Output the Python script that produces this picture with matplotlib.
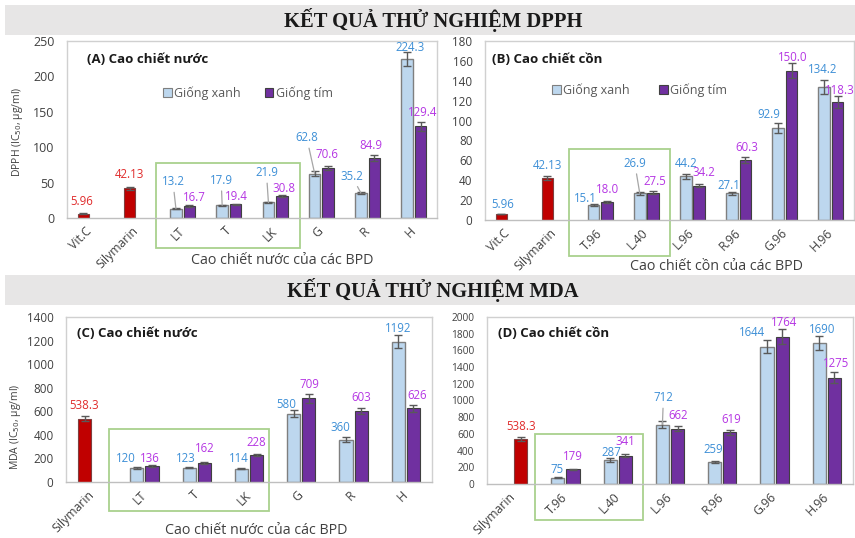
import matplotlib
matplotlib.use("Agg")
import matplotlib.pyplot as plt
import matplotlib.transforms as mtransforms
from matplotlib.patches import Rectangle, Patch
import numpy as np

plt.rcParams["font.family"] = ["Open Sans", "DejaVu Sans"]

FIG_W, FIG_H = 855, 538

# (A) DPPH - water extracts
dpph_water_ctrl = ["Vit.C", "Silymarin"]
dpph_water_ctrl_val = [5.96, 42.13]
dpph_water_ctrl_err = [0.5, 2.0]
dpph_water_names = ["LT", "T", "LK", "G", "R", "H"]
dpph_water_xanh = [13.2, 17.9, 21.9, 62.8, 35.2, 224.3]
dpph_water_tim = [16.7, 19.4, 30.8, 70.6, 84.9, 129.4]
dpph_water_xanh_err = [1.0, 1.0, 1.2, 3.5, 2.0, 10.0]
dpph_water_tim_err = [1.0, 1.0, 1.3, 3.5, 4.0, 6.5]

# (B) DPPH - ethanol extracts
dpph_eth_ctrl = ["Vit.C", "Silymarin"]
dpph_eth_ctrl_val = [5.96, 42.13]
dpph_eth_ctrl_err = [0.3, 2.0]
dpph_eth_names = ["T.96", "L.40", "L.96", "R.96", "G.96", "H.96"]
dpph_eth_xanh = [15.1, 26.9, 44.2, 27.1, 92.9, 134.2]
dpph_eth_tim = [18.0, 27.5, 34.2, 60.3, 150.0, 118.3]
dpph_eth_xanh_err = [1.0, 1.5, 2.5, 1.5, 5.0, 7.0]
dpph_eth_tim_err = [1.0, 1.2, 1.5, 3.3, 7.5, 6.0]

# (C) MDA - water extracts
mda_water_ctrl = ["Silymarin"]
mda_water_ctrl_val = [538.3]
mda_water_ctrl_err = [23]
mda_water_names = ["LT", "T", "LK", "G", "R", "H"]
mda_water_xanh = [120, 123, 114, 580, 360, 1192]
mda_water_tim = [136, 162, 228, 709, 603, 626]
mda_water_xanh_err = [6, 6, 5, 28, 20, 59]
mda_water_tim_err = [7, 10, 10, 37, 28, 31]

# (D) MDA - ethanol extracts
mda_eth_ctrl = ["Silymarin"]
mda_eth_ctrl_val = [538.3]
mda_eth_ctrl_err = [24]
mda_eth_names = ["T.96", "L.40", "L.96", "R.96", "G.96", "H.96"]
mda_eth_xanh = [75, 287, 712, 259, 1644, 1690]
mda_eth_tim = [179, 341, 662, 619, 1764, 1275]
mda_eth_xanh_err = [5, 20, 44, 12, 80, 80]
mda_eth_tim_err = [6, 15, 32, 32, 92, 68]

RED = "#C00000"
XANH = "#BDD7EE"
TIM = "#7030A0"
LBL_BLUE = "#3D8FD6"
LBL_TIM = "#B536E3"
LBL_RED = "#E02B2B"
TXT = "#404040"
BOX_GREEN = "#A9D18E"
W = 0.25
OFF = 0.145


def fig_rect(left, top, right, bottom):
    return [left / FIG_W, 1 - bottom / FIG_H, (right - left) / FIG_W, (bottom - top) / FIG_H]


def fig_xy(x, y):
    return x / FIG_W, 1 - y / FIG_H


def put_label(ax, x, y, text, color, dxdy, leader=False):
    dx, dy = dxdy
    kw = {}
    if leader:
        kw["arrowprops"] = dict(arrowstyle="-", color="#A6A6A6", lw=0.9,
                                shrinkA=1, shrinkB=0)
    ax.annotate(text, (x, y), xytext=(dx, dy), textcoords="offset pixels",
                ha="center", va="center", fontsize=8.3, color=color, **kw)


def draw_panel(fig, p):
    ax = fig.add_axes(fig_rect(*p["rect"]))
    n_ctrl = len(p["ctrl"])
    n = n_ctrl + len(p["names"])
    x_ctrl = np.arange(n_ctrl) + p["ctrl_side"] * OFF
    x_samp = np.arange(n_ctrl, n)
    ekw = dict(ecolor="#595959", elinewidth=1, capsize=3, capthick=1)

    ax.bar(x_ctrl, p["ctrl_val"], W, color=RED, edgecolor="#7F3F3F", lw=0.8,
           yerr=p["ctrl_err"], error_kw=ekw, zorder=2)
    ax.bar(x_samp - OFF, p["xanh"], W, color=XANH, edgecolor="#7F7F7F", lw=1,
           yerr=p["xanh_err"], error_kw=ekw, zorder=2)
    ax.bar(x_samp + OFF, p["tim"], W, color=TIM, edgecolor="#404040", lw=0.8,
           yerr=p["tim_err"], error_kw=ekw, zorder=2)

    for x, v, off in zip(x_ctrl, p["ctrl_val"], p["ctrl_off"]):
        put_label(ax, x, v, f"{v:g}", p["ctrl_color"], off)
    for x, v, off, ld in zip(x_samp - OFF, p["xanh"], p["xanh_off"], p["leaders"]):
        put_label(ax, x, v, p["fmt"].format(v), LBL_BLUE, off, ld)
    for x, v, off in zip(x_samp + OFF, p["tim"], p["tim_off"]):
        put_label(ax, x, v, p["fmt"].format(v), LBL_TIM, off)

    ax.set_xlim(-0.5, n - 0.5)
    ax.set_ylim(0, p["ymax"])
    ax.set_yticks(np.arange(0, p["ymax"] + 1, p["ystep"]))
    ax.set_xticks(np.arange(n))
    ax.set_xticklabels(p["ctrl"] + p["names"], rotation=45, ha="right",
                       va="center", rotation_mode="anchor")
    ax.tick_params(axis="x", length=0, pad=8, labelsize=8.8, labelcolor=TXT)
    ax.tick_params(axis="y", length=0, pad=9, labelsize=p["ytick_size"],
                   labelcolor=TXT)
    for side in ("left", "right", "top"):
        ax.spines[side].set_color("#D0D0D0")
        ax.spines[side].set_linewidth(1)
    ax.spines["bottom"].set_color("#BFBFBF")
    ax.spines["bottom"].set_linewidth(1)

    ax.text(p["title_xy"][0], p["title_xy"][1], p["title"], transform=ax.transAxes,
            ha="left", va="center", fontsize=9.5, fontweight="bold", color="#1A1A1A")

    if p.get("ylabel"):
        ax.set_ylabel(p["ylabel"], fontsize=7.5, color=TXT)
        ax.yaxis.set_label_coords(*p["ylabel_xy"])

    if p.get("legend_xy"):
        handles = [Patch(facecolor=XANH, edgecolor="#7F7F7F", lw=0.8),
                   Patch(facecolor=TIM, edgecolor="#404040", lw=0.8)]
        ax.legend(handles, ["Giống xanh", "Giống tím"], ncol=2, frameon=False,
                  loc="center", bbox_to_anchor=p["legend_xy"], fontsize=9,
                  labelcolor="#595959", handlelength=0.7, handleheight=0.7,
                  handletextpad=0.2, columnspacing=p["colspace"],
                  borderaxespad=0)

    # green frame around the highlighted group of extracts
    bx0, bx1, by0, by1 = p["box"]
    trans = mtransforms.blended_transform_factory(ax.transData, ax.transAxes)
    ax.add_patch(Rectangle((bx0, by0), bx1 - bx0, by1 - by0, transform=trans,
                           fill=False, edgecolor=BOX_GREEN, lw=1.3, clip_on=False,
                           zorder=1))
    if p.get("xlabel_px"):
        fig.text(*fig_xy(*p["xlabel_px"]), p["xlabel"], ha="center", va="center",
                 fontsize=10.3, color=TXT)
    return ax


fig = plt.figure(figsize=(FIG_W / 100, FIG_H / 100), dpi=100)

# header bands
for top, label in [(5, "KẾT QUẢ THỬ NGHIỆM DPPH"), (275, "KẾT QUẢ THỬ NGHIỆM MDA")]:
    fig.add_artist(Rectangle(fig_xy(5, top + 30), 850 / FIG_W, 30 / FIG_H,
                             transform=fig.transFigure, facecolor="#E7E6E6",
                             edgecolor="none", zorder=0))
    fig.text(*fig_xy(433, top + 15), label, ha="center", va="center",
             fontsize=14.8, fontweight="bold", family=["Liberation Serif", "DejaVu Serif"],
             color="#1A1A1A")

panels = [
    dict(rect=(67, 41, 437, 218), ymax=250, ystep=50, ytick_size=9,
         ctrl=dpph_water_ctrl, ctrl_val=dpph_water_ctrl_val, ctrl_err=dpph_water_ctrl_err,
         names=dpph_water_names, xanh=dpph_water_xanh, tim=dpph_water_tim,
         xanh_err=dpph_water_xanh_err, tim_err=dpph_water_tim_err,
         ctrl_side=-1, ctrl_color=LBL_RED, fmt="{:.1f}",
         ctrl_off=[(-2, 12), (0, 14)],
         xanh_off=[(-3, 27), (-1, 25), (-2, 30), (-8, 36), (-9, 17), (3, 12)],
         tim_off=[(5, 9), (1, 8), (2, 8), (-1, 14), (-3, 12), (2, 14)],
         leaders=[True, True, True, True, True, False],
         title="(A) Cao chiết nước", title_xy=(0.054, 0.898),
         ylabel="DPPH (IC$_{50}$, µg/ml)", ylabel_xy=(-0.114, 0.49),
         legend_xy=(0.489, 0.706), colspace=1.9,
         box=(1.435, 4.53, -0.169, 0.311),
         xlabel="Cao chiết nước của các BPD", xlabel_px=(282, 260)),
    dict(rect=(485, 41, 854, 220), ymax=180, ystep=20, ytick_size=8.4,
         ctrl=dpph_eth_ctrl, ctrl_val=dpph_eth_ctrl_val, ctrl_err=dpph_eth_ctrl_err,
         names=dpph_eth_names, xanh=dpph_eth_xanh, tim=dpph_eth_tim,
         xanh_err=dpph_eth_xanh_err, tim_err=dpph_eth_tim_err,
         ctrl_side=-1, ctrl_color=LBL_BLUE, fmt="{:.1f}",
         ctrl_off=[(1, 10), (0, 13)],
         xanh_off=[(-8, 6), (-5, 30), (0, 13), (-3, 8), (-9, 13), (-2, 17)],
         tim_off=[(1, 13), (2, 11), (5, 13), (1, 13), (1, 13), (2, 12)],
         leaders=[False, True, False, False, False, False],
         title="(B) Cao chiết cồn", title_xy=(0.018, 0.894),
         legend_xy=(0.419, 0.726), colspace=2.3,
         box=(1.316, 3.52, -0.201, 0.397),
         xlabel="Cao chiết cồn của các BPD", xlabel_px=(716, 267)),
    dict(rect=(66, 317, 432, 482), ymax=1400, ystep=200, ytick_size=8.4,
         ctrl=mda_water_ctrl, ctrl_val=mda_water_ctrl_val, ctrl_err=mda_water_ctrl_err,
         names=mda_water_names, xanh=mda_water_xanh, tim=mda_water_tim,
         xanh_err=mda_water_xanh_err, tim_err=mda_water_tim_err,
         ctrl_side=-1, ctrl_color=LBL_RED, fmt="{:.0f}",
         ctrl_off=[(0, 13.5)],
         xanh_off=[(-11, 9), (-3, 9), (-3, 10), (-7, 9), (-6, 12), (0, 13)],
         tim_off=[(-2, 7), (0, 14), (0, 13), (1, 14), (0, 13), (4, 13)],
         leaders=[False] * 6,
         title="(C) Cao chiết nước", title_xy=(0.030, 0.903),
         ylabel="MDA (IC$_{50}$, µg/ml)", ylabel_xy=(-0.117, 0.333),
         box=(0.322, 3.38, -0.176, 0.321),
         xlabel="Cao chiết nước của các BPD", xlabel_px=(256, 530)),
    dict(rect=(487, 317, 853, 484), ymax=2000, ystep=200, ytick_size=7.3,
         ctrl=mda_eth_ctrl, ctrl_val=mda_eth_ctrl_val, ctrl_err=mda_eth_ctrl_err,
         names=mda_eth_names, xanh=mda_eth_xanh, tim=mda_eth_tim,
         xanh_err=mda_eth_xanh_err, tim_err=mda_eth_tim_err,
         ctrl_side=1, ctrl_color=LBL_RED, fmt="{:.0f}",
         ctrl_off=[(0, 13)],
         xanh_off=[(-1, 8), (1, 8), (1, 27), (-1, 13), (-15, 14), (3, 13)],
         tim_off=[(0, 13), (0, 14), (1, 13), (1, 13), (2, 14), (2, 14)],
         leaders=[False, False, True, False, False, False],
         title="(D) Cao chiết cồn", title_xy=(0.030, 0.904),
         box=(0.418, 2.48, -0.216, 0.299)),
]

for p in panels:
    draw_panel(fig, p)

fig.savefig("out.png", dpi=100)
